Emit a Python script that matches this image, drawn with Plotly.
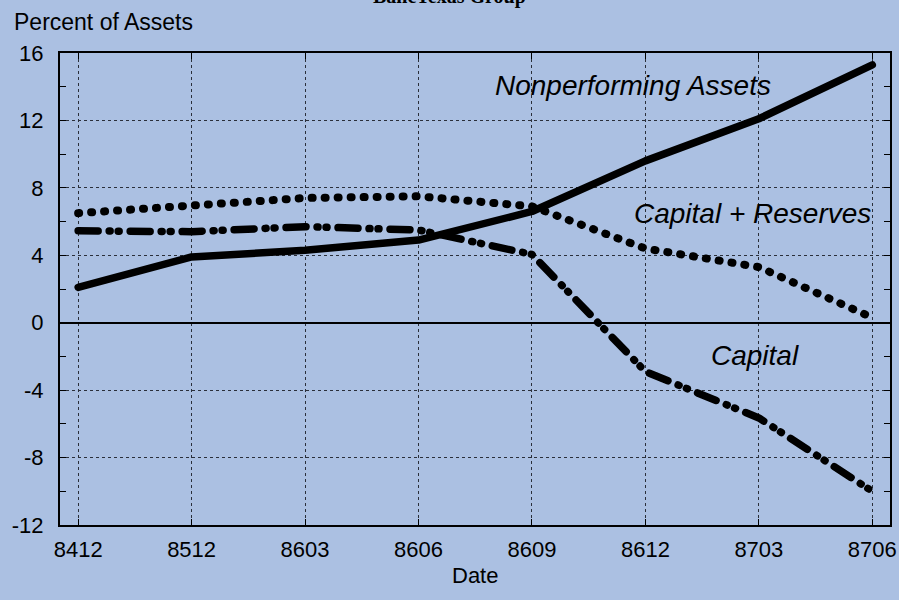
import plotly.graph_objects as go

dates = ["8412", "8512", "8603", "8606", "8609", "8612", "8703", "8706"]
nonperforming = [2.1, 3.9, 4.3, 4.9, 6.6, 9.6, 12.1, 15.3]
capital_reserves = [6.5, 7.0, 7.4, 7.5, 6.9, 4.4, 3.3, 0.3]
capital = [5.45, 5.4, 5.7, 5.5, 4.05, -2.9, -5.65, -10.0]
y_ticks = [-12, -8, -4, 0, 4, 8, 12, 16]
y_labels = ["-12", "-8", "-4", "0", "4", "8", "12", "16"]

x_idx = list(range(len(dates)))
BG = "#abc0e2"
FONT = "Liberation Sans, Arial, sans-serif"

fig = go.Figure()
fig.add_trace(go.Scatter(x=x_idx, y=nonperforming, mode="lines",
                         line=dict(color="black", width=7.5), name="Nonperforming Assets"))
fig.add_trace(go.Scatter(x=x_idx, y=capital_reserves, mode="lines",
                         line=dict(color="black", width=8, dash="1px,12px"), name="Capital + Reserves"))
fig.add_trace(go.Scatter(x=x_idx, y=capital, mode="lines",
                         line=dict(color="black", width=7.5, dash="20px,11px,1px,8px,1px,11px"), name="Capital"))

fig.update_layout(
    width=899, height=600, autosize=False,
    margin=dict(l=60, r=9, t=53, b=75, autoexpand=False),
    paper_bgcolor=BG, plot_bgcolor=BG,
    showlegend=False,
    font=dict(family=FONT, size=22, color="black"),
)
fig.update_xaxes(
    tickmode="array", tickvals=x_idx, ticktext=dates,
    range=[-0.16, 7.156], automargin=False,
    showgrid=True, gridcolor="#2a2f3a", gridwidth=1, griddash="dot",
    showline=True, linecolor="black", linewidth=2, mirror="ticks",
    ticks="inside", ticklen=6, tickcolor="black",
    zeroline=False, ticklabelstandoff=4,
)
fig.update_yaxes(
    tickmode="array", tickvals=y_ticks, ticktext=y_labels,
    range=[-12, 16], automargin=False,
    showgrid=True, gridcolor="#2a2f3a", gridwidth=1, griddash="dot",
    showline=True, linecolor="black", linewidth=2, mirror="ticks",
    ticks="inside", ticklen=6, tickcolor="black",
    minor=dict(dtick=2, tick0=0, ticks="inside", ticklen=6, tickcolor="black", showgrid=False),
    zeroline=True, zerolinecolor="black", zerolinewidth=2,
    ticklabelstandoff=10,
)

ann_font = dict(family=FONT, size=28, color="black")
for txt, ax, ay in [("<i>Nonperforming Assets</i>", 0.690, 0.932),
                    ("<i>Capital + Reserves</i>", 0.834, 0.661),
                    ("<i>Capital</i>", 0.837, 0.360)]:
    fig.add_annotation(text=txt, xref="paper", yref="paper", x=ax, y=ay,
                       xanchor="center", yanchor="middle", showarrow=False, font=ann_font)
fig.add_annotation(text="Percent of Assets", xref="paper", yref="paper",
                   x=-0.0578, y=1.065, xanchor="left", yanchor="middle", showarrow=False,
                   font=dict(family=FONT, size=23, color="black"))
fig.add_annotation(text="Date", xref="paper", yref="paper",
                   x=0.5, y=-0.108, xanchor="center", yanchor="middle", showarrow=False,
                   font=dict(family=FONT, size=22, color="black"))
fig.add_annotation(text="<b>BancTexas Group</b>", xref="paper", yref="paper",
                   x=0.4687, y=1.0904, xanchor="center", yanchor="bottom", showarrow=False,
                   font=dict(family="Liberation Serif, Times New Roman, serif", size=20, color="black"))

post = """
document.body.style.margin='0';
document.body.style.overflow='hidden';
document.body.style.background='%s';
var gd = document.getElementsByClassName('plotly-graph-div')[0];
function roundCaps(){
  document.querySelectorAll('.scatterlayer path.js-line').forEach(function(p){
    p.style.strokeLinecap='round'; p.style.strokeLinejoin='round';
  });
}
if (gd && gd.on) { gd.on('plotly_afterplot', roundCaps); }
Plotly.relayout(gd, {width: 899, height: 600}).then(roundCaps);
roundCaps();
""" % BG
fig.write_html("out.html", post_script=post,
               config={"displayModeBar": False, "responsive": False})
